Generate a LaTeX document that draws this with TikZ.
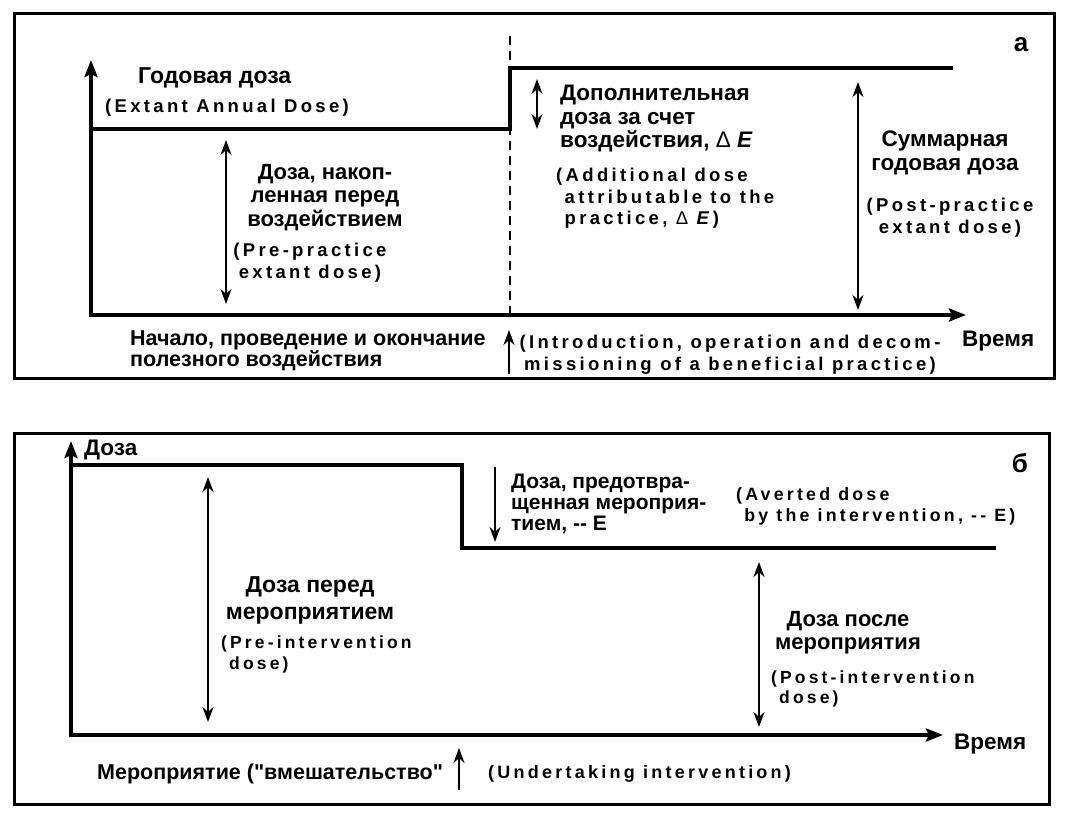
\documentclass[tikz,border=0pt]{standalone}
\usepackage{fontspec}
\newfontfamily\rufont{Liberation Sans}
\newfontfamily\enfont[LetterSpace=18]{Liberation Sans}
\usetikzlibrary{arrows.meta}
\newcommand{\dE}{{\mdseries Δ}~\textit{E}}
\tikzset{
    x=1pt, y=-1pt, % pixel units, y runs downwards
    panel/.style={line width=3pt}, % frame round each part
    axis/.style={line width=4.5pt, -{Stealth[length=17pt, width=13pt, inset=3pt]}},
    doseline/.style={line width=4.5pt, line join=miter},
    marker/.style={line width=2pt, dash pattern=on 9pt off 6pt},
    dimboth/.style={line width=2.4pt, {Stealth[length=15pt, width=11pt]}-{Stealth[length=15pt, width=11pt]}},
    dimone/.style={line width=2.4pt, -{Stealth[length=15pt, width=11pt]}},
    ru/.style={font=\rufont\bfseries\fontsize{22.5}{23.5}\selectfont, inner sep=0pt},
    en/.style={font=\enfont\bfseries\fontsize{18.5}{21.5}\selectfont, inner sep=0pt},
    tag/.style={font=\rufont\bfseries\fontsize{26}{26}\selectfont, inner sep=0pt},
    }

\begin{document}
\begin{tikzpicture}
\useasboundingbox (0,0) rectangle (1067,829);

% part a
\draw[panel] (14,14) rectangle (1054,378);
\coordinate (aO) at (91,315);
\coordinate (aY) at (91,60);
\coordinate (aX) at (966,315);
\draw[axis] (91,317.25) -- (aY);
\draw[axis] (aO) -- (aX);
\draw[doseline] (91,129) -- (510,129) -- (510,68) -- (953,68);
\draw[marker] (510,36) -- (510,318);
\coordinate (preTop) at (226,140);
\coordinate (preBot) at (226,304);
\coordinate (addTop) at (537,79);
\coordinate (addBot) at (537,129);
\coordinate (sumTop) at (858,82);
\coordinate (sumBot) at (858,310);
\coordinate (startBot) at (509,374);
\coordinate (startTop) at (509,330);
\draw[dimboth] (preTop) -- (preBot);
\draw[dimboth] (addTop) -- (addBot);
\draw[dimboth] (sumTop) -- (sumBot);
\draw[dimone] (startBot) -- (startTop);

\node[tag] (tagA) at (1021,45) {а};
\node[ru, anchor=north west, font=\rufont\bfseries\fontsize{23}{23}\selectfont] (annual) at (138,67) {Годовая доза};
\node[en, anchor=north west] (annualEn) at (105,99) {(Extant Annual Dose)};
\node[ru, anchor=north, align=center, font=\rufont\bfseries\fontsize{22}{23.5}\selectfont] (prePract) at (325,164) {Доза, накоп-\\ленная перед\\воздействием};
\node[en, anchor=north, align=center] (prePractEn) at (310,243) {(Pre-practice\\extant dose)};
\node[ru, anchor=north west, align=left, font=\rufont\bfseries\fontsize{21.5}{21}\selectfont] (startRu) at (130,331) {Начало, проведение и окончание\\полезного воздействия};
\node[en, anchor=north, align=center, font=\enfont\bfseries\fontsize{18.5}{22}\selectfont] (startEn) at (730,335) {(Introduction, operation and decom-\\missioning of a beneficial practice)};
\node[ru, anchor=north west] (timeA) at (962,331) {Время};
\node[ru, anchor=north west, align=left] (addRu) at (560,85) {Дополнительная\\доза за счет\\воздействия, \dE};
\node[en, anchor=north west, align=left] (addEn) at (556,168) {(Additional dose\\\ attributable to the\\\ practice, \dE)};
\node[ru, anchor=north, align=center, font=\rufont\bfseries\fontsize{22.5}{24}\selectfont] (sumRu) at (945,131) {Суммарная\\годовая доза};
\node[en, anchor=north, align=center] (sumEn) at (950,198) {(Post-practice\\extant dose)};

% part b
\draw[panel] (14,433) rectangle (1049,804);
\coordinate (bO) at (71,735);
\coordinate (bY) at (71,441);
\coordinate (bX) at (943,735);
\draw[axis] (71,737.25) -- (bY);
\draw[axis] (bO) -- (bX);
\draw[doseline] (71,465) -- (462,465) -- (462,548) -- (996,548);
\coordinate (befTop) at (208,477);
\coordinate (befBot) at (208,722);
\coordinate (avTop) at (495,467);
\coordinate (avBot) at (495,542);
\coordinate (aftTop) at (759,562);
\coordinate (aftBot) at (759,727);
\coordinate (actBot) at (459,790);
\coordinate (actTop) at (459,748);
\draw[dimboth] (befTop) -- (befBot);
\draw[dimone] (avTop) -- (avBot);
\draw[dimboth] (aftTop) -- (aftBot);
\draw[dimone] (actBot) -- (actTop);

\node[tag] (tagB) at (1020,463) {б};
\node[ru, anchor=north west] (doseB) at (84,440) {Доза};
\node[ru, anchor=north, align=center, font=\rufont\bfseries\fontsize{23}{27}\selectfont] (befRu) at (310,576) {Доза перед\\мероприятием};
\node[en, anchor=north west, align=left, font=\enfont\bfseries\fontsize{17.5}{21}\selectfont] (befEn) at (221,636) {(Pre-intervention\\\ dose)};
\node[ru, anchor=north west, align=left, font=\rufont\bfseries\fontsize{21}{21}\selectfont] (avRu) at (511,474) {Доза, предотвра-\\щенная мероприя-\\тием, -{}- E};
\node[en, anchor=north west, align=left, font=\enfont\bfseries\fontsize{17.8}{21}\selectfont] (avEn) at (736,487) {(Averted dose\\\ by the intervention, -{}- E)};
\node[ru, anchor=north, align=center, font=\rufont\bfseries\fontsize{22}{23}\selectfont] (aftRu) at (848,611) {Доза после\\мероприятия};
\node[en, anchor=north west, align=left, font=\enfont\bfseries\fontsize{17.5}{20}\selectfont] (aftEn) at (771,671) {(Post-intervention\\\ dose)};
\node[ru, anchor=north west] (timeB) at (954,734) {Время};
\node[ru, anchor=north west, font=\rufont\bfseries\fontsize{21.5}{21.5}\selectfont] (actRu) at (97,764) {Мероприятие ("вмешательство"};
\node[en, anchor=north west, font=\enfont\bfseries\fontsize{18}{21}\selectfont] (actEn) at (488,765) {(Undertaking intervention)};
\end{tikzpicture}
\end{document}
